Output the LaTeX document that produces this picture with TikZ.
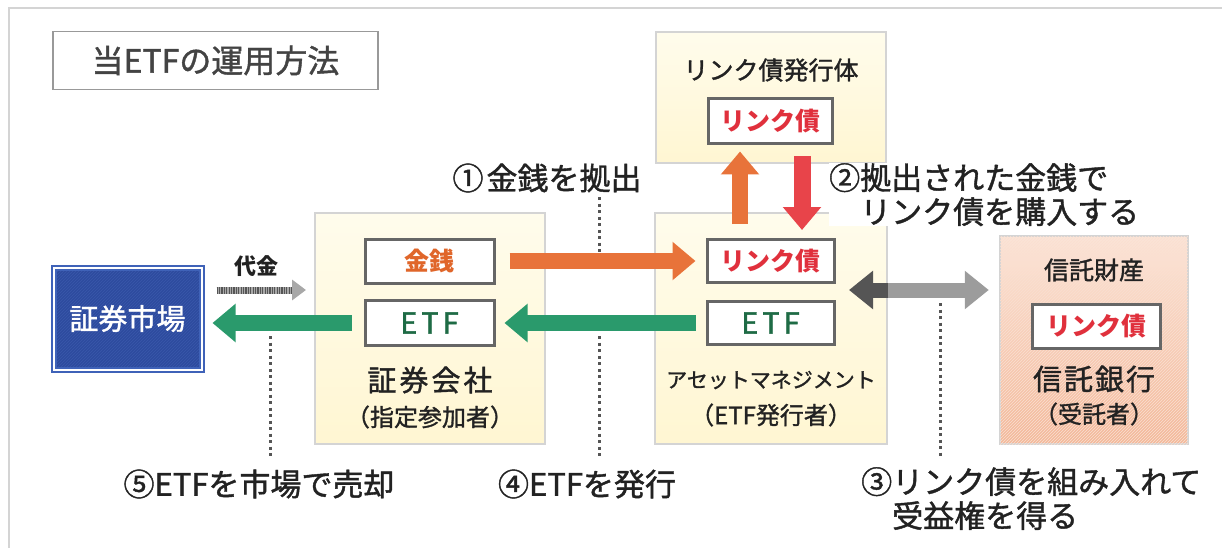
\documentclass[tikz,border=0pt]{standalone}
\usepackage{fontspec}
\setmainfont{Noto Sans CJK JP}
\newfontfamily\jpmed[FakeBold=1.3]{Noto Sans CJK JP}
\usetikzlibrary{arrows.meta,calc,patterns}
\definecolor{cOrange}{HTML}{E8733A}
\definecolor{cOrangeTxt}{HTML}{E0662A}
\definecolor{cRed}{HTML}{E8444A}
\definecolor{cRedTxt}{HTML}{E0303C}
\definecolor{cGreen}{HTML}{2A9A6C}
\definecolor{cGreenTxt}{HTML}{1E6B45}
\definecolor{cBlue}{HTML}{2E4B9F}
\definecolor{cBlueEdge}{HTML}{3F62B8}
\definecolor{cBlueHatch}{HTML}{3A58AA}
\definecolor{cYelTop}{HTML}{FFFCEC}
\definecolor{cYelBot}{HTML}{FFF6D2}
\definecolor{cSalTop}{HTML}{FBE5D8}
\definecolor{cSalBot}{HTML}{F3B899}
\definecolor{cFrame}{HTML}{D4D4D4}
\definecolor{cTitleEdge}{HTML}{999999}
\definecolor{cInner}{HTML}{666666}
\definecolor{cTxt}{HTML}{222222}
\definecolor{cDark}{HTML}{555555}
\definecolor{cLight}{HTML}{9C9C9C}
\definecolor{cStripe}{HTML}{A8A8A8}
\begin{document}
\begin{tikzpicture}[x=1pt,y=-1pt,
  panel/.style={draw=cFrame, line width=2pt, top color=cYelTop, bottom color=cYelBot, inner sep=0pt},
  tag/.style={draw=cInner, line width=3pt, fill=white, inner sep=0pt, font=\bfseries\fontsize{25}{30}\selectfont},
  lbl/.style={text=cTxt, inner sep=0pt, font=\jpmed\fontsize{31}{34}\selectfont},
  sublbl/.style={text=cTxt, inner sep=0pt, font=\jpmed\fontsize{24}{28}\selectfont},
  dotline/.style={draw=cDark, line width=3pt, dash pattern=on 3pt off 3.5pt},
  bigarrow/.style={line width=16pt, -{Triangle[width=37pt,length=23pt]}}
]
\useasboundingbox (0,0) rectangle (1222,548);
% outer frame
\draw[cFrame, line width=2pt] (9,548) -- (9,8) -- (1222,8);
% title
\node[draw=cTitleEdge, line width=1.8pt, fill=white, minimum width=325pt, minimum height=58pt,
      text=cTxt!85, font=\jpmed\fontsize{32}{36}\selectfont] (title) at (215.5,60.5) {当ETFの運用方法};
% panels
\node[panel, minimum width=230pt, minimum height=131pt] (issuer) at (771,97.5) {};
\node[panel, minimum width=230pt, minimum height=231pt] (company) at (430,328.5) {};
\node[panel, minimum width=232pt, minimum height=231pt] (asset) at (771,328.5) {};
\node[draw=cFrame, line width=2.5pt, top color=cSalTop, bottom color=cSalBot,
      postaction={pattern=north east lines, pattern color=white!55!cSalBot},
      minimum width=188pt, minimum height=208pt, inner sep=0pt] (trust) at (1094,340) {};
\node[preaction={fill=cBlue}, pattern=north east lines, pattern color=cBlueHatch,
      draw=cBlueEdge, double=white, double distance=2pt, line width=2pt,
      minimum width=148pt, minimum height=102pt, inner sep=0pt,
      text=white, font=\jpmed\fontsize{29}{32}\selectfont] (market) at (127.5,318.5) {証券市場};
% tags
\node[tag, text=cRedTxt, minimum width=124pt, minimum height=45pt] (link1) at (770,121.5) {リンク債};
\node[tag, text=cOrangeTxt, minimum width=129pt, minimum height=44pt] (money) at (429.5,261) {金銭};
\node[tag, text=cGreenTxt, font=\jpmed\fontsize{29}{32}\selectfont, minimum width=129pt, minimum height=45pt] (etf1) at (429.5,323) {E\hspace{4pt}T\hspace{4pt}F};
\node[tag, text=cRedTxt, minimum width=127pt, minimum height=43pt] (link2) at (770.5,261) {リンク債};
\node[tag, text=cGreenTxt, font=\jpmed\fontsize{29}{32}\selectfont, minimum width=127pt, minimum height=43pt] (etf2) at (770.5,323) {E\hspace{4pt}T\hspace{4pt}F};
\node[tag, text=cRedTxt, minimum width=128pt, minimum height=44pt] (link3) at (1096,326) {リンク債};
% panel texts
\node[sublbl, font=\jpmed\fontsize{25}{28}\selectfont] (issuerT) at (771,70) {リンク債発行体};
\node[lbl, font=\jpmed\fontsize{29}{32}\selectfont] (companyT) at (430,380) {証\hspace{3pt}券\hspace{3pt}会\hspace{3pt}社};
\node[sublbl] (companyS) at (430,417) {（指定参加者）};
\node[sublbl, font=\jpmed\fontsize{21}{24}\selectfont] (assetT) at (771,380) {アセットマネジメント};
\node[sublbl] (assetS) at (771,415) {（ETF発行者）};
\node[sublbl, font=\jpmed\fontsize{25}{28}\selectfont] (trustT) at (1094,270) {信託財産};
\node[lbl, font=\jpmed\fontsize{29}{32}\selectfont] (trustB) at (1094,379) {信\hspace{2pt}託\hspace{2pt}銀\hspace{2pt}行};
\node[sublbl] (trustS) at (1094,414) {（受託者）};
\node[sublbl, font=\bfseries\fontsize{22}{26}\selectfont] (daikin) at (256,266) {代金};
% step labels
\node[lbl] (s1) at (547,178) {①\hspace{3pt}金銭を拠出};
\node[lbl, anchor=north west, align=left, fill=white] (s2) at (829,163) {②拠出された金銭で\\\phantom{②}リンク債を購入する};
\node[lbl, anchor=north west, align=left] (s3) at (861,467) {③リンク債を組み入れて\\\phantom{③}受益権を得る};
\node[lbl] (s4) at (587,484) {④ETFを発行};
\node[lbl] (s5) at (259,484) {⑤ETFを市場で売却};
% leader coordinates
\coordinate (d1a) at (599,197); \coordinate (d1b) at (599,252);
\coordinate (d5a) at (270,336); \coordinate (d5b) at (270,457);
\coordinate (d4a) at (599,336); \coordinate (d4b) at (599,457);
\coordinate (d3a) at (940,303); \coordinate (d3b) at (940,456);
\draw[dotline] (d1a) -- (d1b);
\draw[dotline] (d5a) -- (d5b);
\draw[dotline] (d4a) -- (d4b);
\draw[dotline] (d3a) -- (d3b);
% main arrows
\draw[bigarrow, cOrange] ($(money.east)+(14,0)$) -- ($(link2.west)+(-10,0)$);
\draw[bigarrow, cGreen] ($(etf2.west)+(-10,0)$) -- ($(etf1.east)+(9,0)$);
\draw[bigarrow, cGreen] ($(etf1.west)+(-12,0)$) -- ($(market.east |- etf1.west)+(10,0)$);
\draw[bigarrow, cOrange] ($(asset.north)+(-31,12)$) -- ($(link1.south)+(-30,6)$);
\draw[bigarrow, cRed, line width=17pt] ($(link1.south)+(32,11)$) -- ($(link2.north)+(31.5,-8)$);
% double arrow
\coordinate (split) at ($(asset.east)+(0,-38.5)$);
\coordinate (dblL) at ($(split)+(-39,0)$);
\coordinate (dblR) at ($(trust.west)+(-10,-50)$);
\draw[line width=15pt, cLight, -{Triangle[width=37pt,length=24pt]}] (split) -- (dblR);
\draw[line width=15pt, cDark, -{Triangle[width=37pt,length=24pt]}] (split) -- (dblL);
% daikin arrow
\coordinate (pa) at ($(market.east)+(14,-28.5)$);
\coordinate (pb) at ($(company.west)+(-8,-38.5)$);
\coordinate (pc) at ($(pb)+(-14,0)$);
\draw[line width=7pt, cStripe, -{Triangle[width=20pt,length=14pt]}] (pa) -- (pb);
\draw[line width=7pt, cDark, dash pattern=on 1.2pt off 1.2pt] (pa) -- (pc);
\end{tikzpicture}
\end{document}
